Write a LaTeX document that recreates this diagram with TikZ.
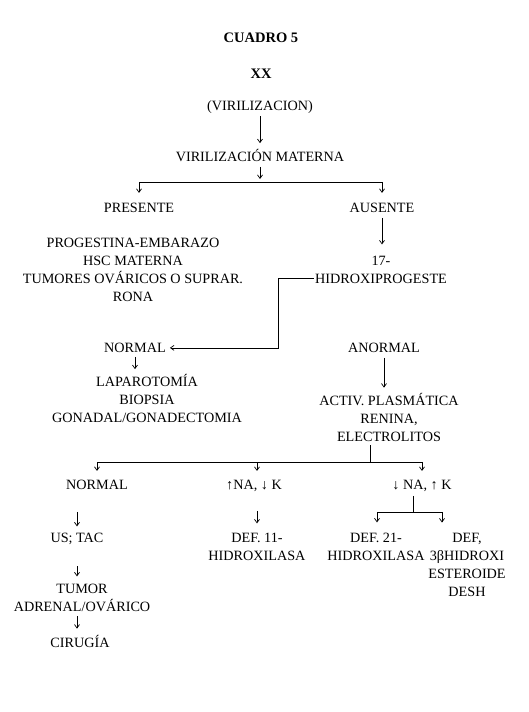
\documentclass[tikz,border=0pt]{standalone}
\usepackage{fontspec}
\setmainfont{Liberation Serif}
\usetikzlibrary{arrows.meta}
\begin{document}
\begin{tikzpicture}[x=1pt,y=-1pt,
  txt/.style={font=\fontsize{14.2}{18}\selectfont, align=center, inner sep=1pt, anchor=base},
  ttl/.style={font=\fontsize{14.5}{17}\selectfont\bfseries, inner sep=1pt, anchor=base},
  conn/.style={line width=0.7pt, -{Straight Barb[length=3.5pt,width=5pt,line width=0.7pt]}},
  bar/.style={line width=0.8pt}]
\useasboundingbox[fill=white] (0,0) rectangle (529,712);

% --- nodes (multi-line nodes are placed by the baseline of their last line) ---
\node[ttl] (cuadro) at (261,42.5) {CUADRO 5};
\node[ttl] (xx) at (261,78) {XX};
\node[txt] (viril) at (260,110) {(VIRILIZACION)};
\node[txt] (vmat) at (260,161.5) {VIRILIZACIÓN MATERNA};
\node[txt] (pres) at (139,212.5) {PRESENTE};
\node[txt] (aus) at (382,212.5) {AUSENTE};
\node[txt] (prog) at (133,301) {PROGESTINA-EMBARAZO\\HSC MATERNA\\TUMORES OVÁRICOS O SUPRAR.\\RONA};
\node[txt] (hidro) at (381,283) {17-\\HIDROXIPROGESTE};
\node[txt] (norm1) at (135,352.5) {NORMAL};
\node[txt] (lapa) at (147,422.5) {LAPAROTOMÍA\\BIOPSIA\\GONADAL/GONADECTOMIA};
\node[txt] (anorm) at (384,352.5) {ANORMAL};
\node[txt] (activ) at (389,441) {ACTIV. PLASMÁTICA\\RENINA,\\ELECTROLITOS};
\node[txt] (norm2) at (97,489.5) {NORMAL};
\node[txt] (nak1) at (254,489.5) {↑NA, ↓ K};
\node[txt] (nak2) at (422,489.5) {↓ NA, ↑ K};
\node[txt] (ustac) at (77,542) {US; TAC};
\node[txt] (tumor) at (82,611) {TUMOR\\ADRENAL/OVÁRICO};
\node[txt] (ciru) at (80,647) {CIRUGÍA};
\node[txt] (def11) at (257,560) {DEF. 11-\\HIDROXILASA};
\node[txt] (def21) at (376,560) {DEF. 21-\\HIDROXILASA};
\node[txt] (def3b) at (467,596) {DEF,\\3βHIDROXI\\ESTEROIDE\\DESH};

% --- coordinates ---
\coordinate (b1) at (260,182);
\coordinate (b1L) at (139,182);
\coordinate (b1R) at (382,182);
\path (hidro.south west) ++(0,-6) coordinate (h2);
\coordinate (b2) at (370,462);
\coordinate (b2L) at (97,462);
\coordinate (b2M) at (257,462);
\coordinate (b2R) at (422,462);
\coordinate (b3) at (413,512);
\coordinate (b3L) at (377,512);
\coordinate (b3R) at (442,512);

% --- connectors ---
\draw[conn, shorten <=2pt, shorten >=5pt] (viril) -- (vmat);
\draw[conn, shorten <=4pt, shorten >=3pt] (vmat.south) -- (b1);
\draw[bar] (b1L) -- (b1R);
\draw[conn, shorten >=9pt] (b1L) -- (b1L |- pres.north);
\draw[conn, shorten >=9pt] (b1R) -- (b1R |- aus.north);
\draw[conn, shorten <=4pt, shorten >=10pt] (aus) -- (aus |- hidro.north);
\draw[conn, shorten >=3pt] (h2) -- (278,0 |- h2) |- (norm1.east);
\draw[conn, shorten <=3pt, shorten >=4pt] (norm1) -- (norm1 |- lapa.north);
\draw[conn, shorten <=4pt, shorten >=4pt] (anorm) -- (anorm |- activ.north);
\draw[bar, shorten <=3pt] (b2 |- activ.south) -- (b2);
\draw[bar] (b2L) -- (b2R);
\draw[conn, shorten >=8pt] (b2L) -- (b2L |- norm2.north);
\draw[conn, shorten >=8pt] (b2M) -- (b2M |- nak1.north);
\draw[conn, shorten >=8pt] (b2R) -- (b2R |- nak2.north);
\draw[conn, shorten <=21pt, shorten >=5pt] (ustac.north |- norm2.south) -- (ustac.north);
\draw[conn, shorten <=21pt, shorten >=6pt] (ustac.south) -- (ustac.south |- tumor.north);
\draw[conn, shorten <=4pt, shorten >=5pt] (ustac.south |- tumor.south) -- (ustac.south |- ciru.north);
\draw[conn, shorten <=18pt, shorten >=8pt] (b2M |- nak1.south) -- (b2M |- def11.north);
\draw[bar, shorten <=3pt] (b3 |- nak2.south) -- (b3);
\draw[bar] (b3L) -- (b3R);
\draw[conn, shorten >=9pt] (b3L) -- (b3L |- def21.north);
\draw[conn, shorten >=9pt] (b3R) -- (b3R |- def3b.north);
\end{tikzpicture}
\end{document}
